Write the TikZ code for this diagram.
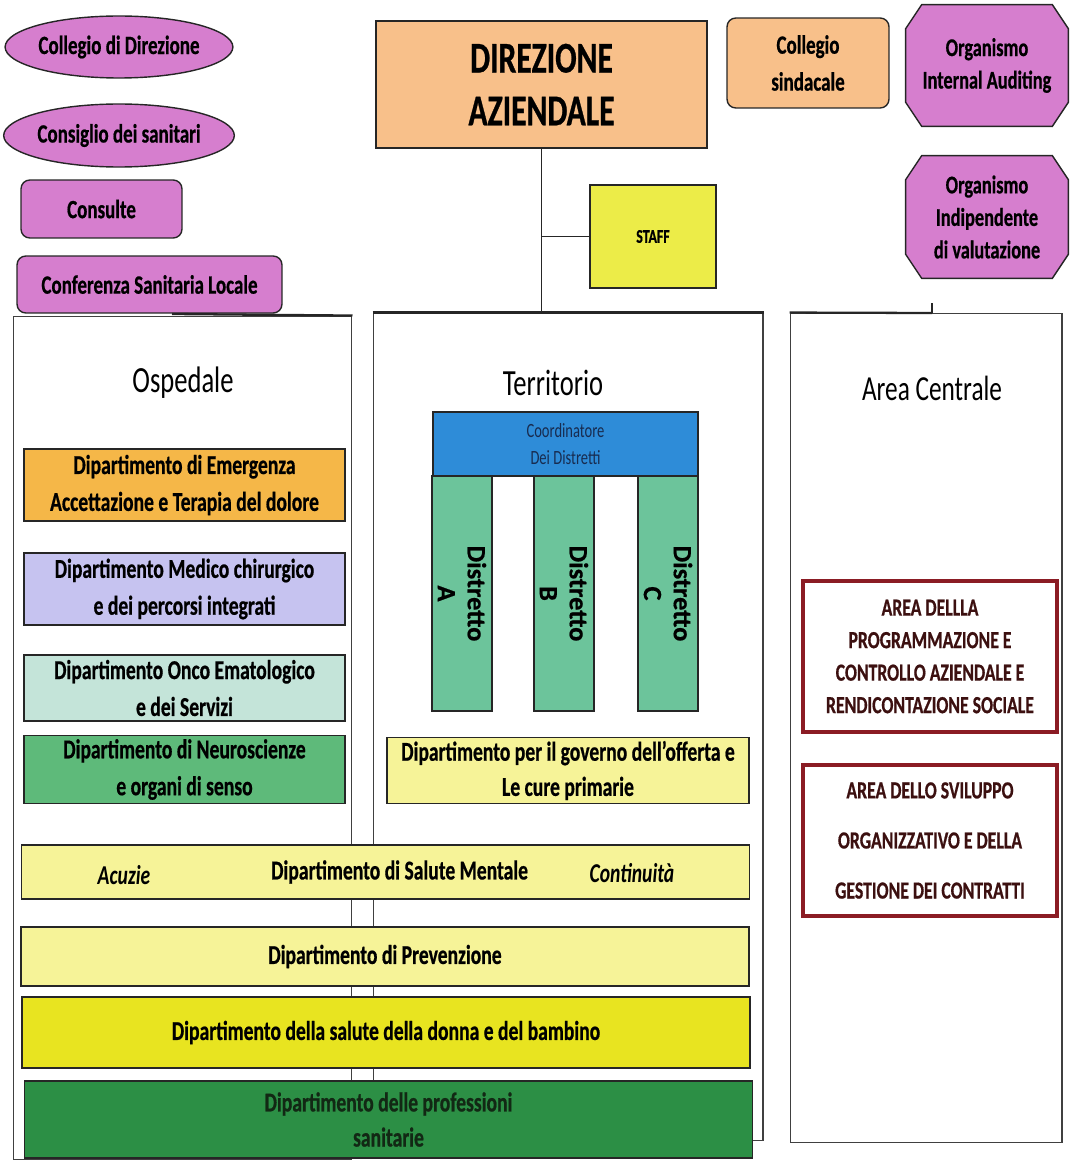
\documentclass[tikz,border=0pt]{standalone}
\usepackage{fontspec}
\setmainfont{Carlito}[FakeStretch=0.72,BoldFeatures={FakeBold=0.6}]
\newfontfamily\widefont{Carlito}[BoldFeatures={FakeBold=0.6}]
\usetikzlibrary{shapes.geometric,backgrounds}
\definecolor{pinkbox}{RGB}{214,126,206}
\definecolor{orangebox}{RGB}{248,192,138}
\definecolor{staffyellow}{RGB}{236,236,72}
\definecolor{emeorange}{RGB}{245,183,72}
\definecolor{medlilac}{RGB}{198,195,240}
\definecolor{oncoteal}{RGB}{196,228,217}
\definecolor{neurogreen}{RGB}{94,186,122}
\definecolor{coordblue}{RGB}{46,140,216}
\definecolor{coordtext}{RGB}{24,44,80}
\definecolor{distgreen}{RGB}{108,196,155}
\definecolor{paleyellow}{RGB}{246,243,152}
\definecolor{strongyellow}{RGB}{232,228,32}
\definecolor{profgreen}{RGB}{44,143,69}
\definecolor{proftext}{RGB}{18,40,20}
\definecolor{areared}{RGB}{139,28,36}
\definecolor{areatext}{RGB}{60,16,16}

\begin{document}
\begin{tikzpicture}[x=0.02cm,y=-0.02cm,
    every node/.style={align=center,inner sep=2pt},
    edge/.style={draw=black!85,line width=0.8pt},
    container/.style={draw=black!75,line width=0.6pt,fill=white},
    bus/.style={draw=black!85,line width=1.3pt},
    ovalbox/.style={ellipse,edge,fill=pinkbox,inner sep=0pt,font=\bfseries\fontsize{15}{18}\selectfont},
    roundbox/.style={rectangle,rounded corners=5pt,edge,font=\bfseries\fontsize{15}{18}\selectfont},
    octbox/.style={rectangle,font=\bfseries\fontsize{14.5}{18.5}\selectfont},
    deptbox/.style={rectangle,edge,minimum width=6.42cm,font=\bfseries\fontsize{15.5}{21}\selectfont},
    bandbox/.style={rectangle,edge,minimum width=14.56cm,font=\bfseries\fontsize{15.5}{20}\selectfont},
    distbox/.style={rectangle,edge,fill=distgreen,rotate=-90,minimum width=4.7cm,minimum height=1.2cm,
        font=\widefont\bfseries\fontsize{15}{17}\selectfont},
    areabox/.style={rectangle,draw=areared,line width=2pt,minimum width=5.08cm,minimum height=3.02cm,
        text=areatext,font=\bfseries\fontsize{14}{18.5}\selectfont},
    title/.style={font=\fontsize{21}{24}\selectfont}]
\useasboundingbox (0,0) rectangle (1070,1162);

% columns
\node[container,minimum width=6.78cm,minimum height=16.88cm] (osp) at (182.5,738) {};
\node[container,minimum width=7.8cm,minimum height=16.56cm] (terr) at (568,727) {};
\node[container,minimum width=5.44cm,minimum height=16.6cm] (area) at (926,728) {};
\node[title] (ospt) at (183,383) {Ospedale};
\node[title] (terrt) at (553,383) {Territorio};
\node[title,font=\fontsize{20}{24}\selectfont] (areat) at (932,388) {Area Centrale};

% top level
\node[rectangle,edge,fill=orangebox,minimum width=6.62cm,minimum height=2.54cm,
    font=\bfseries\fontsize{25}{30}\selectfont] (dir) at (541.5,84.5) {DIREZIONE\\AZIENDALE};
\node[roundbox,fill=orangebox,minimum width=3.24cm,minimum height=1.8cm,
    font=\bfseries\fontsize{15}{21}\selectfont] (sind) at (808,63) {Collegio\\sindacale};
\node[octbox,minimum width=3.24cm,minimum height=2.42cm] (audit) at (987,65.5) {Organismo\\Internal Auditing};
\node[octbox,minimum width=3.24cm,minimum height=2.44cm] (oiv) at (987,217) {Organismo\\Indipendente\\di valutazione};
\begin{scope}[on background layer]
\foreach \o in {audit,oiv} {
    \draw[edge,fill=pinkbox] ([xshift=0.32cm]\o.north west) -- ([xshift=-0.32cm]\o.north east)
        -- ([yshift=-0.48cm]\o.north east) -- ([yshift=0.48cm]\o.south east)
        -- ([xshift=-0.32cm]\o.south east) -- ([xshift=0.32cm]\o.south west)
        -- ([yshift=0.48cm]\o.south west) -- ([yshift=-0.48cm]\o.north west) -- cycle;
}
\end{scope}
\node[rectangle,edge,fill=staffyellow,minimum width=2.52cm,minimum height=2.06cm,
    font=\bfseries\fontsize{11}{13}\selectfont] (staff) at (653,236.5) {STAFF};

\node[ovalbox,minimum width=4.44cm,minimum height=1.24cm] (coldir) at (119,47) {Collegio di Direzione};
\node[ovalbox,minimum width=4.44cm,minimum height=1.26cm] (cons) at (119,135.5) {Consiglio dei sanitari};
\node[roundbox,fill=pinkbox,minimum width=3.22cm,minimum height=1.16cm] (consulte) at (101.5,209) {Consulte};
\node[roundbox,fill=pinkbox,minimum width=5.3cm,minimum height=1.14cm] (conf) at (149.5,284.5) {Conferenza Sanitaria Locale};

% connectors
\coordinate (busL) at (172,314);
\coordinate (busR) at (932,313);
\draw[edge] (dir.south) -- (dir.south |- terr.north);
\draw[edge] (dir.south |- staff.west) -- (staff.west);
\draw[bus] (busL) -- (osp.north east);
\draw[bus] (terr.north west) -- (terr.north east);
\draw[bus] (area.north west) -- (busR);
\draw[edge] (busR) -- ++(0,-10);

% ospedale
\node[deptbox,fill=emeorange,minimum height=1.44cm] (eme) at (184.5,485) {Dipartimento di Emergenza\\Accettazione e Terapia del dolore};
\node[deptbox,fill=medlilac,minimum height=1.44cm] (med) at (184.5,589) {Dipartimento Medico chirurgico\\e dei percorsi integrati};
\node[deptbox,fill=oncoteal,minimum height=1.32cm] (onco) at (184.5,688) {Dipartimento Onco Ematologico\\e dei Servizi};
\node[deptbox,fill=neurogreen,minimum height=1.3cm] (neuro) at (184.5,769.5) {Dipartimento di Neuroscienze\\e organi di senso};

% territorio
\node[rectangle,edge,fill=coordblue,minimum width=5.3cm,minimum height=1.28cm,text=coordtext,
    font=\fontsize{11.5}{15}\selectfont] (coord) at (565.5,444) {Coordinatore\\Dei Distretti};
\foreach \d/\x in {A/462,B/564,C/668} {
    \node[distbox] (dist\d) at (\x,593.5) {Distretto\\\d};
}
\node[rectangle,edge,fill=paleyellow,minimum width=7.24cm,minimum height=1.22cm,
    font=\bfseries\fontsize{15.5}{20}\selectfont] (gov) at (568,770.5) {Dipartimento per il governo dell'offerta e\\Le cure primarie};

% area centrale
\node[areabox] (prog) at (930,656.5) {AREA DELLLA\\PROGRAMMAZIONE E\\CONTROLLO AZIENDALE E\\RENDICONTAZIONE SOCIALE};
\node[areabox,font=\bfseries\fontsize{14}{28.5}\selectfont] (svil) at (930,840.5) {AREA DELLO SVILUPPO\\ORGANIZZATIVO E DELLA\\GESTIONE DEI CONTRATTI};

% bande trasversali
\node[bandbox,fill=paleyellow,minimum height=1.08cm] (mental) at (385.5,872) {\hspace{16pt}Dipartimento di Salute Mentale};
\node[font=\bfseries\itshape\fontsize{15.5}{18}\selectfont] (acu) at (124,875) {Acuzie};
\node[font=\bfseries\itshape\fontsize{15.5}{18}\selectfont] (cont) at (632,873) {Continuità};
\node[bandbox,fill=paleyellow,minimum height=1.18cm] (prev) at (385,956.5) {Dipartimento di Prevenzione};
\node[bandbox,fill=strongyellow,minimum height=1.42cm] (donna) at (386,1032.5) {Dipartimento della salute della donna e del bambino};
\node[bandbox,fill=profgreen,minimum height=1.54cm,text=proftext] (prof) at (388.5,1119.5) {Dipartimento delle professioni\\sanitarie};
\end{tikzpicture}
\end{document}
